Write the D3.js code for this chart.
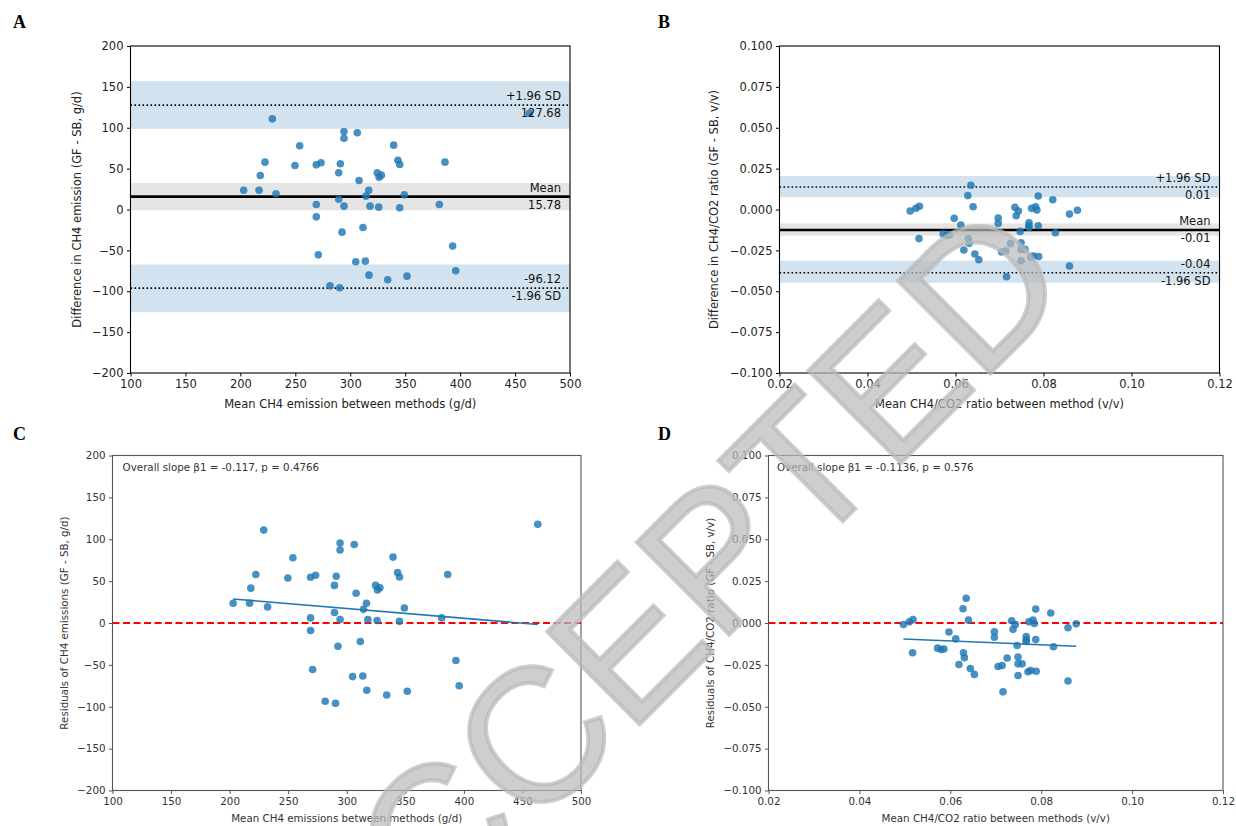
<!DOCTYPE html>
<html>
<head>
<meta charset="utf-8">
<script src="https://cdn.jsdelivr.net/npm/d3@7"></script>
<style>
html,body{margin:0;padding:0;background:#fff;}
svg{display:block;}
</style>
</head>
<body>
<svg id="chart" width="1236" height="826"></svg>
<script>
// ---------------- DATA ----------------
const ch4Mean = [229.1,294.3,294.3,306.4,254.0,339.5,222.4,249.7,269.1,273.4,291.0,343.4,345.0,386.2,218.1,289.5,324.6,326.2,328.3,308.0,203.0,217.0,232.4,316.8,314.3,349.2,289.5,269.1,294.3,318.0,325.9,345.0,381.1,269.1,292.5,311.6,270.9,393.2,305.0,313.7,317.1,334.1,351.7,396.0,281.6,290.4,463.1];
const ch4Diff = [110.9,95.4,87.2,93.8,77.9,78.7,57.9,53.8,54.6,57.1,55.9,60.3,55.0,57.9,41.6,44.9,44.9,39.5,42.0,35.5,23.6,23.6,19.2,23.6,16.3,17.9,12.6,6.1,4.1,4.1,2.9,2.0,6.1,-9.0,-27.7,-22.0,-55.5,-44.8,-64.0,-63.2,-80.3,-86.0,-81.5,-75.0,-93.4,-95.8,117.8];

const ratioMean = [0.0497,0.0510,0.0518,0.0517,0.0597,0.0612,0.0572,0.0580,0.0586,0.0635,0.0628,0.0640,0.0629,0.0631,0.0619,0.0644,0.0653,0.0697,0.0697,0.0705,0.0714,0.0725,0.0716,0.0735,0.0743,0.0738,0.0747,0.0749,0.0749,0.0758,0.0749,0.0767,0.0767,0.0767,0.0773,0.0782,0.0785,0.0788,0.0788,0.0771,0.0777,0.0789,0.0821,0.0827,0.0859,0.0877,0.0859];
const ratioDiff = [-0.0009,0.0007,0.0020,-0.0178,-0.0054,-0.0095,-0.0150,-0.0158,-0.0155,0.0148,0.0085,0.0017,-0.0178,-0.0207,-0.0248,-0.0272,-0.0307,-0.0052,-0.0085,-0.0260,-0.0254,-0.0209,-0.0411,0.0013,-0.0009,-0.0038,-0.0134,-0.0203,-0.0244,-0.0244,-0.0313,-0.0081,-0.0101,-0.0110,0.0007,0.0017,-0.0003,0.0083,-0.0099,-0.0291,-0.0284,-0.0288,0.0060,-0.0142,-0.0028,-0.0005,-0.0346];

// Bland-Altman statistics: [lower LoA, mean, upper LoA]
const ch4Limits = [-96.12, 15.78, 127.68];
const ch4LimitLabels = ["-96.12", "15.78", "127.68"];
const ch4Bands = [[-125.6,-67.3],[-1.0,32.4],[98.7,157.0]];
const ratioLimits = [-0.0387, -0.0125, 0.0138];
const ratioLimitLabels = ["-0.04", "-0.01", "0.01"];
const ratioBands = [[-0.0448,-0.0313],[-0.0160,-0.0085],[0.0075,0.0205]];

// residual regressions [slope, intercept]
const ch4Fit = [-0.117, 52.45];
const ratioFit = [-0.1136, -0.00392];
const ch4Note = "Overall slope \u03b21 = -0.117, p = 0.4766";
const ratioNote = "Overall slope \u03b21 = -0.1136, p = 0.576";

// tick values
const ch4XTicks = [100,150,200,250,300,350,400,450,500];
const ch4YTicks = [-200,-150,-100,-50,0,50,100,150,200];
const ratioXTicks = [0.02,0.04,0.06,0.08,0.10,0.12];
const ratioYTicks = [-0.100,-0.075,-0.050,-0.025,0,0.025,0.050,0.075,0.100];

const panelLetters = ["A","B","C","D"];
const watermark = "ACCEPTED";

// ---------------- DRAW ----------------
const svg = d3.select("#chart");
svg.append("rect").attr("width",1236).attr("height",826).attr("fill","#fff");
const FONT = "'DejaVu Sans', sans-serif";
const BLUE = "#1f77b4";

const panels = [
  {letter:panelLetters[0], lx:13, ly:28, x0:130.5, x1:570, y0:46, y1:373,
   xs:ch4Mean, ys:ch4Diff, xDom:[100,500], yDom:[-200,200], xT:ch4XTicks, yT:ch4YTicks,
   xF:d3.format("d"), yF:d3.format("d"), fs:11.5, frame:"#000", text:"#222",
   xLab:"Mean CH4 emission between methods (g/d)", yLab:"Difference in CH4 emission (GF - SB, g/d)",
   yLabX:76.5, xLabY:408, type:"ba", limits:ch4Limits, limLab:ch4LimitLabels, bands:ch4Bands},
  {letter:panelLetters[1], lx:658, ly:28, x0:779.5, x1:1219.5, y0:46, y1:373,
   xs:ratioMean, ys:ratioDiff, xDom:[0.02,0.12], yDom:[-0.1,0.1], xT:ratioXTicks, yT:ratioYTicks,
   xF:d3.format(".2f"), yF:d3.format(".3f"), fs:11.5, frame:"#000", text:"#222",
   xLab:"Mean CH4/CO2 ratio between method (v/v)", yLab:"Difference in CH4/CO2 ratio (GF - SB, v/v)",
   yLabX:714, xLabY:408, type:"ba", limits:ratioLimits, limLab:ratioLimitLabels, bands:ratioBands},
  {letter:panelLetters[2], lx:13, ly:440, x0:112.5, x1:581, y0:455.5, y1:790.5,
   xs:ch4Mean, ys:ch4Diff, xDom:[100,500], yDom:[-200,200], xT:ch4XTicks, yT:ch4YTicks,
   xF:d3.format("d"), yF:d3.format("d"), fs:10.3, frame:"#555", text:"#333",
   xLab:"Mean CH4 emissions between methods (g/d)", yLab:"Residuals of CH4 emissions (GF - SB, g/d)",
   yLabX:63.5, xLabY:822, type:"res", fit:ch4Fit, note:ch4Note, noteX:122.6},
  {letter:panelLetters[3], lx:658, ly:440, x0:768.5, x1:1223, y0:455.5, y1:790.5,
   xs:ratioMean, ys:ratioDiff, xDom:[0.02,0.12], yDom:[-0.1,0.1], xT:ratioXTicks, yT:ratioYTicks,
   xF:d3.format(".2f"), yF:d3.format(".3f"), fs:10.3, frame:"#555", text:"#333",
   xLab:"Mean CH4/CO2 ratio between methods (v/v)", yLab:"Residuals of CH4/CO2 ratio (GF - SB, v/v)",
   yLabX:710, xLabY:822, type:"res", fit:ratioFit, note:ratioNote, noteX:777}
];

panels.forEach(p => {
  const g = svg.append("g");
  const x = d3.scaleLinear().domain(p.xDom).range([p.x0,p.x1]);
  const y = d3.scaleLinear().domain(p.yDom).range([p.y1,p.y0]);

  // panel letter
  svg.append("text").attr("x",p.lx).attr("y",p.ly)
    .attr("font-family","'Liberation Serif','Times New Roman',serif")
    .attr("font-weight","bold").attr("font-size",18).attr("fill","#000").text(p.letter);

  if (p.type === "ba") {
    p.bands.forEach((b,i) => {
      g.append("rect").attr("x",p.x0).attr("width",p.x1-p.x0)
        .attr("y",y(b[1])).attr("height",y(b[0])-y(b[1]))
        .attr("fill", i===1 ? "#e5e5e5" : "#d2e3ef");
    });
    // LoA dotted lines
    [0,2].forEach(i => {
      g.append("line").attr("x1",p.x0).attr("x2",p.x1)
        .attr("y1",y(p.limits[i])).attr("y2",y(p.limits[i]))
        .attr("stroke","#000").attr("stroke-width",1.6).attr("stroke-dasharray","1.6,2.4");
    });
    g.append("line").attr("x1",p.x0).attr("x2",p.x1)
      .attr("y1",y(p.limits[1])).attr("y2",y(p.limits[1]))
      .attr("stroke","#000").attr("stroke-width",2.6);
  } else {
    g.append("line").attr("x1",p.x0).attr("x2",p.x1)
      .attr("y1",y(0)).attr("y2",y(0))
      .attr("stroke","#ff0000").attr("stroke-width",2).attr("stroke-dasharray","7,3.5");
  }

  // points
  g.selectAll("circle.pt").data(p.xs.map((v,i)=>[v,p.ys[i]])).join("circle")
    .attr("class","pt").attr("cx",d=>x(d[0])).attr("cy",d=>y(d[1]))
    .attr("r",3.8).attr("fill",BLUE).attr("fill-opacity",0.82);

  if (p.type === "res") {
    const ext = d3.extent(p.xs);
    g.append("line").attr("x1",x(ext[0])).attr("x2",x(ext[1]))
      .attr("y1",y(p.fit[1]+p.fit[0]*ext[0])).attr("y2",y(p.fit[1]+p.fit[0]*ext[1]))
      .attr("stroke",BLUE).attr("stroke-width",1.6);
    g.append("text").attr("x",p.noteX).attr("y",471).attr("font-family",FONT)
      .attr("font-size",p.fs).attr("fill",p.text).text(p.note);
  } else {
    const tx = p.x1 - 9;
    const names = [["-1.96 SD"],["Mean"],["+1.96 SD"]];
    // upper
    const lab = (yy, s) => g.append("text").attr("x",tx).attr("y",yy).attr("text-anchor","end")
      .attr("font-family",FONT).attr("font-size",p.fs).attr("fill","#111").text(s);
    lab(y(p.limits[2])-4.8, "+1.96 SD");
    lab(y(p.limits[2])+12, p.limLab[2]);
    lab(y(p.limits[1])-4.8, "Mean");
    lab(y(p.limits[1])+12, p.limLab[1]);
    lab(y(p.limits[0])-4.8, p.limLab[0]);
    lab(y(p.limits[0])+12, "-1.96 SD");
  }

  // frame
  g.append("rect").attr("x",p.x0).attr("y",p.y0).attr("width",p.x1-p.x0).attr("height",p.y1-p.y0)
    .attr("fill","none").attr("stroke",p.frame).attr("stroke-width",1.1);

  // axes
  const ax = g.append("g").attr("transform",`translate(0,${p.y1})`)
    .call(d3.axisBottom(x).tickValues(p.xT).tickFormat(p.xF).tickSize(3.5).tickPadding(3.5));
  const ay = g.append("g").attr("transform",`translate(${p.x0},0)`)
    .call(d3.axisLeft(y).tickValues(p.yT).tickFormat(p.yF).tickSize(3.5).tickPadding(3.5));
  [ax,ay].forEach(a => {
    a.select(".domain").remove();
    a.selectAll(".tick line").attr("stroke",p.frame).attr("stroke-width",1);
    a.selectAll(".tick text").attr("font-family",FONT).attr("font-size",p.fs).attr("fill",p.text);
  });

  // axis labels
  g.append("text").attr("x",(p.x0+p.x1)/2).attr("y",p.xLabY).attr("text-anchor","middle")
    .attr("font-family",FONT).attr("font-size",p.fs).attr("fill",p.text).text(p.xLab);
  g.append("text").attr("transform",`translate(${p.yLabX},${(p.y0+p.y1)/2}) rotate(-90)`)
    .attr("text-anchor","middle").attr("dominant-baseline","central")
    .attr("font-family",FONT).attr("font-size",p.fs).attr("fill",p.text).text(p.yLab);
});

// watermark
svg.append("text").attr("transform","translate(345,1019) rotate(-45)")
  .attr("font-family","'Liberation Sans', Arial, sans-serif").attr("font-size",190)
  .attr("fill","#b9b9b9").attr("fill-opacity",0.7)
  .attr("stroke","#b9b9b9").attr("stroke-opacity",0.7).attr("stroke-width",4)
  .text(watermark);
</script>
</body>
</html>
